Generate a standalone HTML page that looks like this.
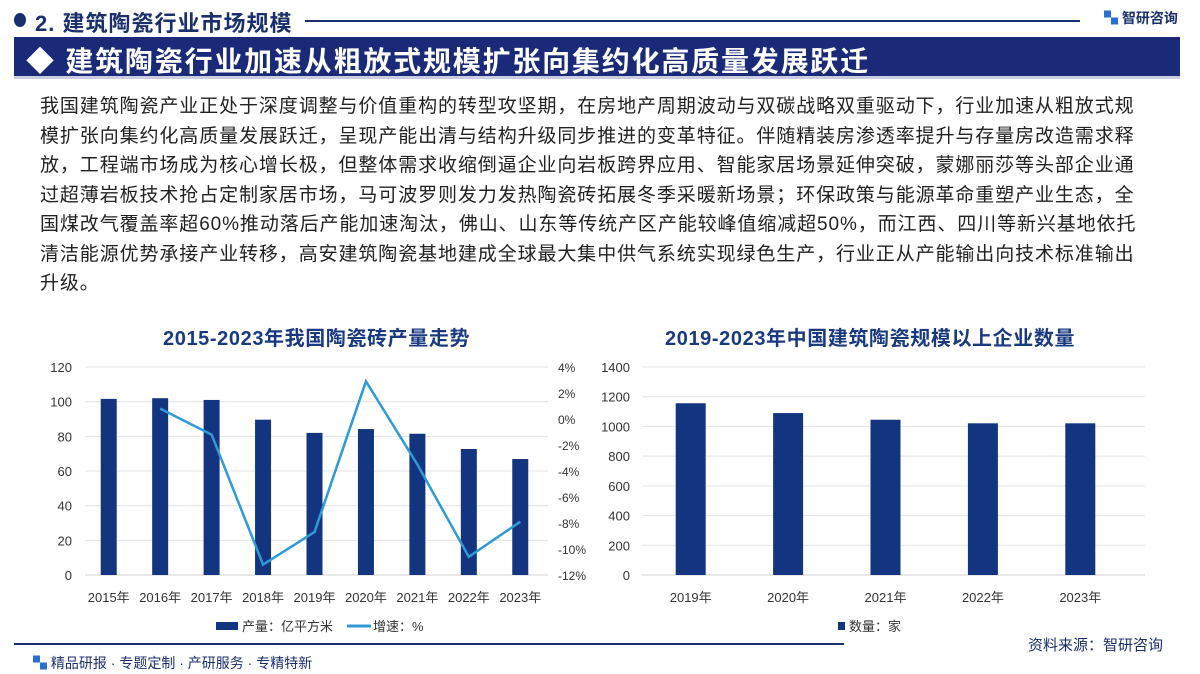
<!DOCTYPE html>
<html><head><meta charset="utf-8">
<style>
*{margin:0;padding:0;box-sizing:border-box}
body{width:1200px;height:674px;overflow:hidden;background:#fff;font-family:"Liberation Sans","Noto Sans CJK SC",sans-serif;position:relative}
.abs{position:absolute}
#body-text{left:40px;top:92px;width:1130px;font-size:19px;line-height:29.5px;color:#222;letter-spacing:0.9px;white-space:nowrap}
.ct{font-size:20px;font-weight:bold;color:#1a3a80;top:322px;white-space:nowrap;letter-spacing:0.6px}
</style></head><body>
<div class="abs" style="left:14px;top:13px;width:12px;height:14px;border-radius:50%;background:#1a2f6e"></div>
<div class="abs" style="left:35px;top:6px;font-size:22px;font-weight:bold;color:#1a2f6e;letter-spacing:1px">2. 建筑陶瓷行业市场规模</div>
<div class="abs" style="left:305px;top:20px;width:775px;height:2px;background:#1a2f6e"></div>
<div class="abs" style="left:1104px;top:8px;font-size:14px;font-weight:bold;color:#1a2f6e"><span style="color:#2a6fd0">▚</span> 智研咨询</div>
<div class="abs" style="left:14px;top:37px;width:1166px;height:42px;background:#1a2a78;border-bottom:3px solid #c8cde0"></div>
<div class="abs" style="left:26px;top:40px;font-size:28px;font-weight:bold;color:#fff;white-space:nowrap;letter-spacing:1.8px">◆ 建筑陶瓷行业加速从粗放式规模扩张向集约化高质量发展跃迁</div>
<div id="body-text" class="abs">我国建筑陶瓷产业正处于深度调整与价值重构的转型攻坚期，在房地产周期波动与双碳战略双重驱动下，行业加速从粗放式规<br>模扩张向集约化高质量发展跃迁，呈现产能出清与结构升级同步推进的变革特征。伴随精装房渗透率提升与存量房改造需求释<br>放，工程端市场成为核心增长极，但整体需求收缩倒逼企业向岩板跨界应用、智能家居场景延伸突破，蒙娜丽莎等头部企业通<br>过超薄岩板技术抢占定制家居市场，马可波罗则发力发热陶瓷砖拓展冬季采暖新场景；环保政策与能源革命重塑产业生态，全<br>国煤改气覆盖率超60%推动落后产能加速淘汰，佛山、山东等传统产区产能较峰值缩减超50%，而江西、四川等新兴基地依托<br>清洁能源优势承接产业转移，高安建筑陶瓷基地建成全球最大集中供气系统实现绿色生产，行业正从产能输出向技术标准输出<br>升级。</div>
<div class="abs ct" style="left:163px">2015-2023年我国陶瓷砖产量走势</div>
<div class="abs ct" style="left:665px">2019-2023年中国建筑陶瓷规模以上企业数量</div>
<svg class="abs" style="left:0;top:0" width="1200" height="674" id="charts"></svg>
<div class="abs" style="left:14px;top:643px;width:830px;height:2px;background:#1a2f6e"></div>
<div class="abs" style="left:1028px;top:634px;font-size:15px;color:#1a2f6e">资料来源：智研咨询</div>
<div class="abs" style="left:33px;top:653px;font-size:14px;color:#1a2f6e"><span style="color:#2a6fd0">▚</span> 精品研报 · 专题定制 · 产研服务 · 专精特新</div>
<script>
const years1=["2015年","2016年","2017年","2018年","2019年","2020年","2021年","2022年","2023年"];
const output=[101.6,102,101,89.6,82,84.2,81.5,72.7,66.9];
const growth=[null,0.8,-1.2,-11.2,-8.7,2.9,-3.5,-10.6,-7.9];
const leftTicks=[0,20,40,60,80,100,120];
const rightTicks=[-12,-10,-8,-6,-4,-2,0,2,4];
const years2=["2019年","2020年","2021年","2022年","2023年"];
const firms=[1156,1090,1045,1021,1021];
const ticks2=[0,200,400,600,800,1000,1200,1400];
const NS="http://www.w3.org/2000/svg";
const svg=document.getElementById('charts');
function mk(t,a,p){const e=document.createElementNS(NS,t);for(const k in a)e.setAttribute(k,a[k]);(p||svg).appendChild(e);return e;}
function txt(x,y,s,anchor,size,name){const e=mk('text',{x:x,y:y,'text-anchor':anchor,'font-size':size,fill:'#333','font-family':'Liberation Sans, Noto Sans CJK SC, sans-serif'});e.textContent=s;return e;}
const L={x0:85,x1:548,y0:575,y1:367};
const ly=v=>L.y0-(v-0)/120*(L.y0-L.y1);
const ry=v=>L.y0-(v+12)/16*(L.y0-L.y1);
const bw=(L.x1-L.x0)/years1.length;
const lx=i=>L.x0+bw*(i+0.5)-2;
leftTicks.forEach(t=>{const g=mk('line',{x1:L.x0,x2:L.x1,y1:ly(t),y2:ly(t),stroke:t===0?'#d0d0d0':'#e3e3e3','stroke-width':1});txt(72,ly(t)+5,t,'end',13,'left-y-tick');});
rightTicks.forEach(t=>{txt(558,ry(t)+5,t+'%','start',12,'right-y-tick');});
output.forEach((v,i)=>{const r=mk('rect',{x:lx(i)-8,y:ly(v),width:16,height:ly(0)-ly(v),fill:'#133580'});txt(lx(i),602,years1[i],'middle',13,'left-x-tick');});
let pts=[];growth.forEach((v,i)=>{if(v!==null)pts.push(lx(i)+','+ry(v));});
const pl=mk('polyline',{points:pts.join(' '),fill:'none',stroke:'#2f9ad6','stroke-width':2.5});

const lg1=mk('rect',{x:216,y:622,width:22,height:8,fill:'#133580'});
txt(242,631,'产量：亿平方米','start',13,'legend-output');
const lg2=mk('line',{x1:347,x2:371,y1:626,y2:626,stroke:'#2f9ad6','stroke-width':3});
txt(373,631,'增速：%','start',13,'legend-growth');
const R={x0:642,x1:1129,y0:575,y1:367};
const y2=v=>R.y0-v/1400*(R.y0-R.y1);
const bw2=(R.x1-R.x0)/years2.length;
const x2=i=>R.x0+bw2*(i+0.5);
ticks2.forEach(t=>{const g=mk('line',{x1:R.x0,x2:1145,y1:y2(t),y2:y2(t),stroke:t===0?'#d0d0d0':'#e3e3e3','stroke-width':1});txt(630,y2(t)+5,t,'end',13,'right-chart-y-tick');});
firms.forEach((v,i)=>{const r=mk('rect',{x:x2(i)-15,y:y2(v),width:30,height:y2(0)-y2(v),fill:'#133580'});txt(x2(i),602,years2[i],'middle',13,'right-x-tick');});
const lg3=mk('rect',{x:838,y:622,width:7,height:8,fill:'#133580'});
txt(849,631,'数量：家','start',13,'legend-firms');
</script>
</body></html>
